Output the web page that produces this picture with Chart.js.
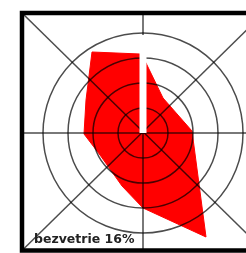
<!DOCTYPE html>
<html><head><meta charset="utf-8">
<script src="https://cdn.jsdelivr.net/npm/chart.js@4"></script>
<style>
html,body{margin:0;padding:0;background:#fff;overflow:hidden;width:246px;height:253px}
#wrap{position:absolute;left:0;top:0;width:290px;height:253px}
</style></head>
<body><div id="wrap"><canvas id="c" width="290" height="253"></canvas></div>
<script>
// wind-rose rings (percent units) and axis extents
const ringValues = [1, 2, 3, 4];
const xMin = -4.84, xMax = 4.84, yMin = -4.7, yMax = 4.8;
// wind rose outline (x = east, y = north)
const polyX = [-2.04, -0.12, 0.12, 0.8, 1.96, 2.52, 0.0, -0.84, -1.72, -2.36, -2.28, -2.04];
const polyY = [ 3.24,  3.16, 2.8,  1.4, 0.08, -4.16, -3.0, -2.12, -0.88, -0.04, 1.32, 3.24];
// north calm gap extent
const gapLength = [0, 3.92];
const calmLabel = 'bezvetrie 16%';

const lineCol = 'rgba(0,0,0,0.7)';
const ringRadius = ctx => {
  const s = ctx.chart.scales.x;
  const v = ctx.raw && ctx.raw.v !== undefined ? ctx.raw.v : 0;
  return Math.abs(s.getPixelForValue(v) - s.getPixelForValue(0));
};
const ringData = vals => vals.map(v => ({x: 0, y: 0, v: v}));
const seg = (a, b) => [a, b];

const boxPlugin = {
  id: 'box',
  afterDatasetsDraw(chart) {
    const {ctx, chartArea: a} = chart;
    ctx.save();
    ctx.strokeStyle = '#000';
    ctx.lineWidth = 4.5;
    ctx.strokeRect(a.left, a.top, a.right - a.left, a.bottom - a.top);
    ctx.font = 'bold 12.5px "DejaVu Sans"';
    ctx.fillStyle = '#222';
    ctx.textBaseline = 'alphabetic';
    ctx.fillText(calmLabel, a.left + 12, a.bottom - 7.5);
    ctx.restore();
  }
};

new Chart(document.getElementById('c'), {
  type: 'scatter',
  data: {
    datasets: [
      { // outer ring (on top)
        data: ringData(ringValues.slice(-1)), order: 0,
        pointRadius: ringRadius, pointBackgroundColor: 'rgba(0,0,0,0)',
        pointBorderColor: lineCol, pointBorderWidth: 1.5
      },
      { // calm gap on north axis
        data: gapLength.map(v => ({x: 0, y: v})), showLine: true, order: 1,
        borderColor: '#fff', borderWidth: 7, borderCapStyle: 'butt', pointRadius: 0
      },
      { // inner rings
        data: ringData(ringValues.slice(0, -1)), order: 2,
        pointRadius: ringRadius, pointBackgroundColor: 'rgba(0,0,0,0)',
        pointBorderColor: lineCol, pointBorderWidth: 1.5
      },
      { data: seg({x: 0, y: yMin}, {x: 0, y: yMax}), showLine: true, order: 3,
        borderColor: lineCol, borderWidth: 1.5, pointRadius: 0 },
      { data: seg({x: xMin, y: 0}, {x: xMax, y: 0}), showLine: true, order: 3,
        borderColor: lineCol, borderWidth: 1.5, pointRadius: 0 },
      { data: seg({x: xMin, y: yMax}, {x: xMax, y: yMin}), showLine: true, order: 3,
        borderColor: lineCol, borderWidth: 1.5, pointRadius: 0 },
      { data: seg({x: xMin, y: yMin}, {x: xMax, y: yMax}), showLine: true, order: 3,
        borderColor: lineCol, borderWidth: 1.5, pointRadius: 0 },
      { // wind rose polygon
        data: polyX.map((x, i) => ({x: x, y: polyY[i]})), showLine: true, order: 4,
        borderColor: '#ff0000', borderWidth: 1, backgroundColor: '#ff0000',
        fill: 'shape', tension: 0, pointRadius: 0
      }
    ]
  },
  options: {
    responsive: false, maintainAspectRatio: false, animation: false, events: [],
    layout: {padding: {left: 22, right: 26, top: 13, bottom: 2.5}},
    plugins: {legend: {display: false}, tooltip: {enabled: false}},
    scales: {
      x: {type: 'linear', min: xMin, max: xMax, display: false},
      y: {type: 'linear', min: yMin, max: yMax, display: false}
    }
  },
  plugins: [boxPlugin]
});
</script>
</body></html>
